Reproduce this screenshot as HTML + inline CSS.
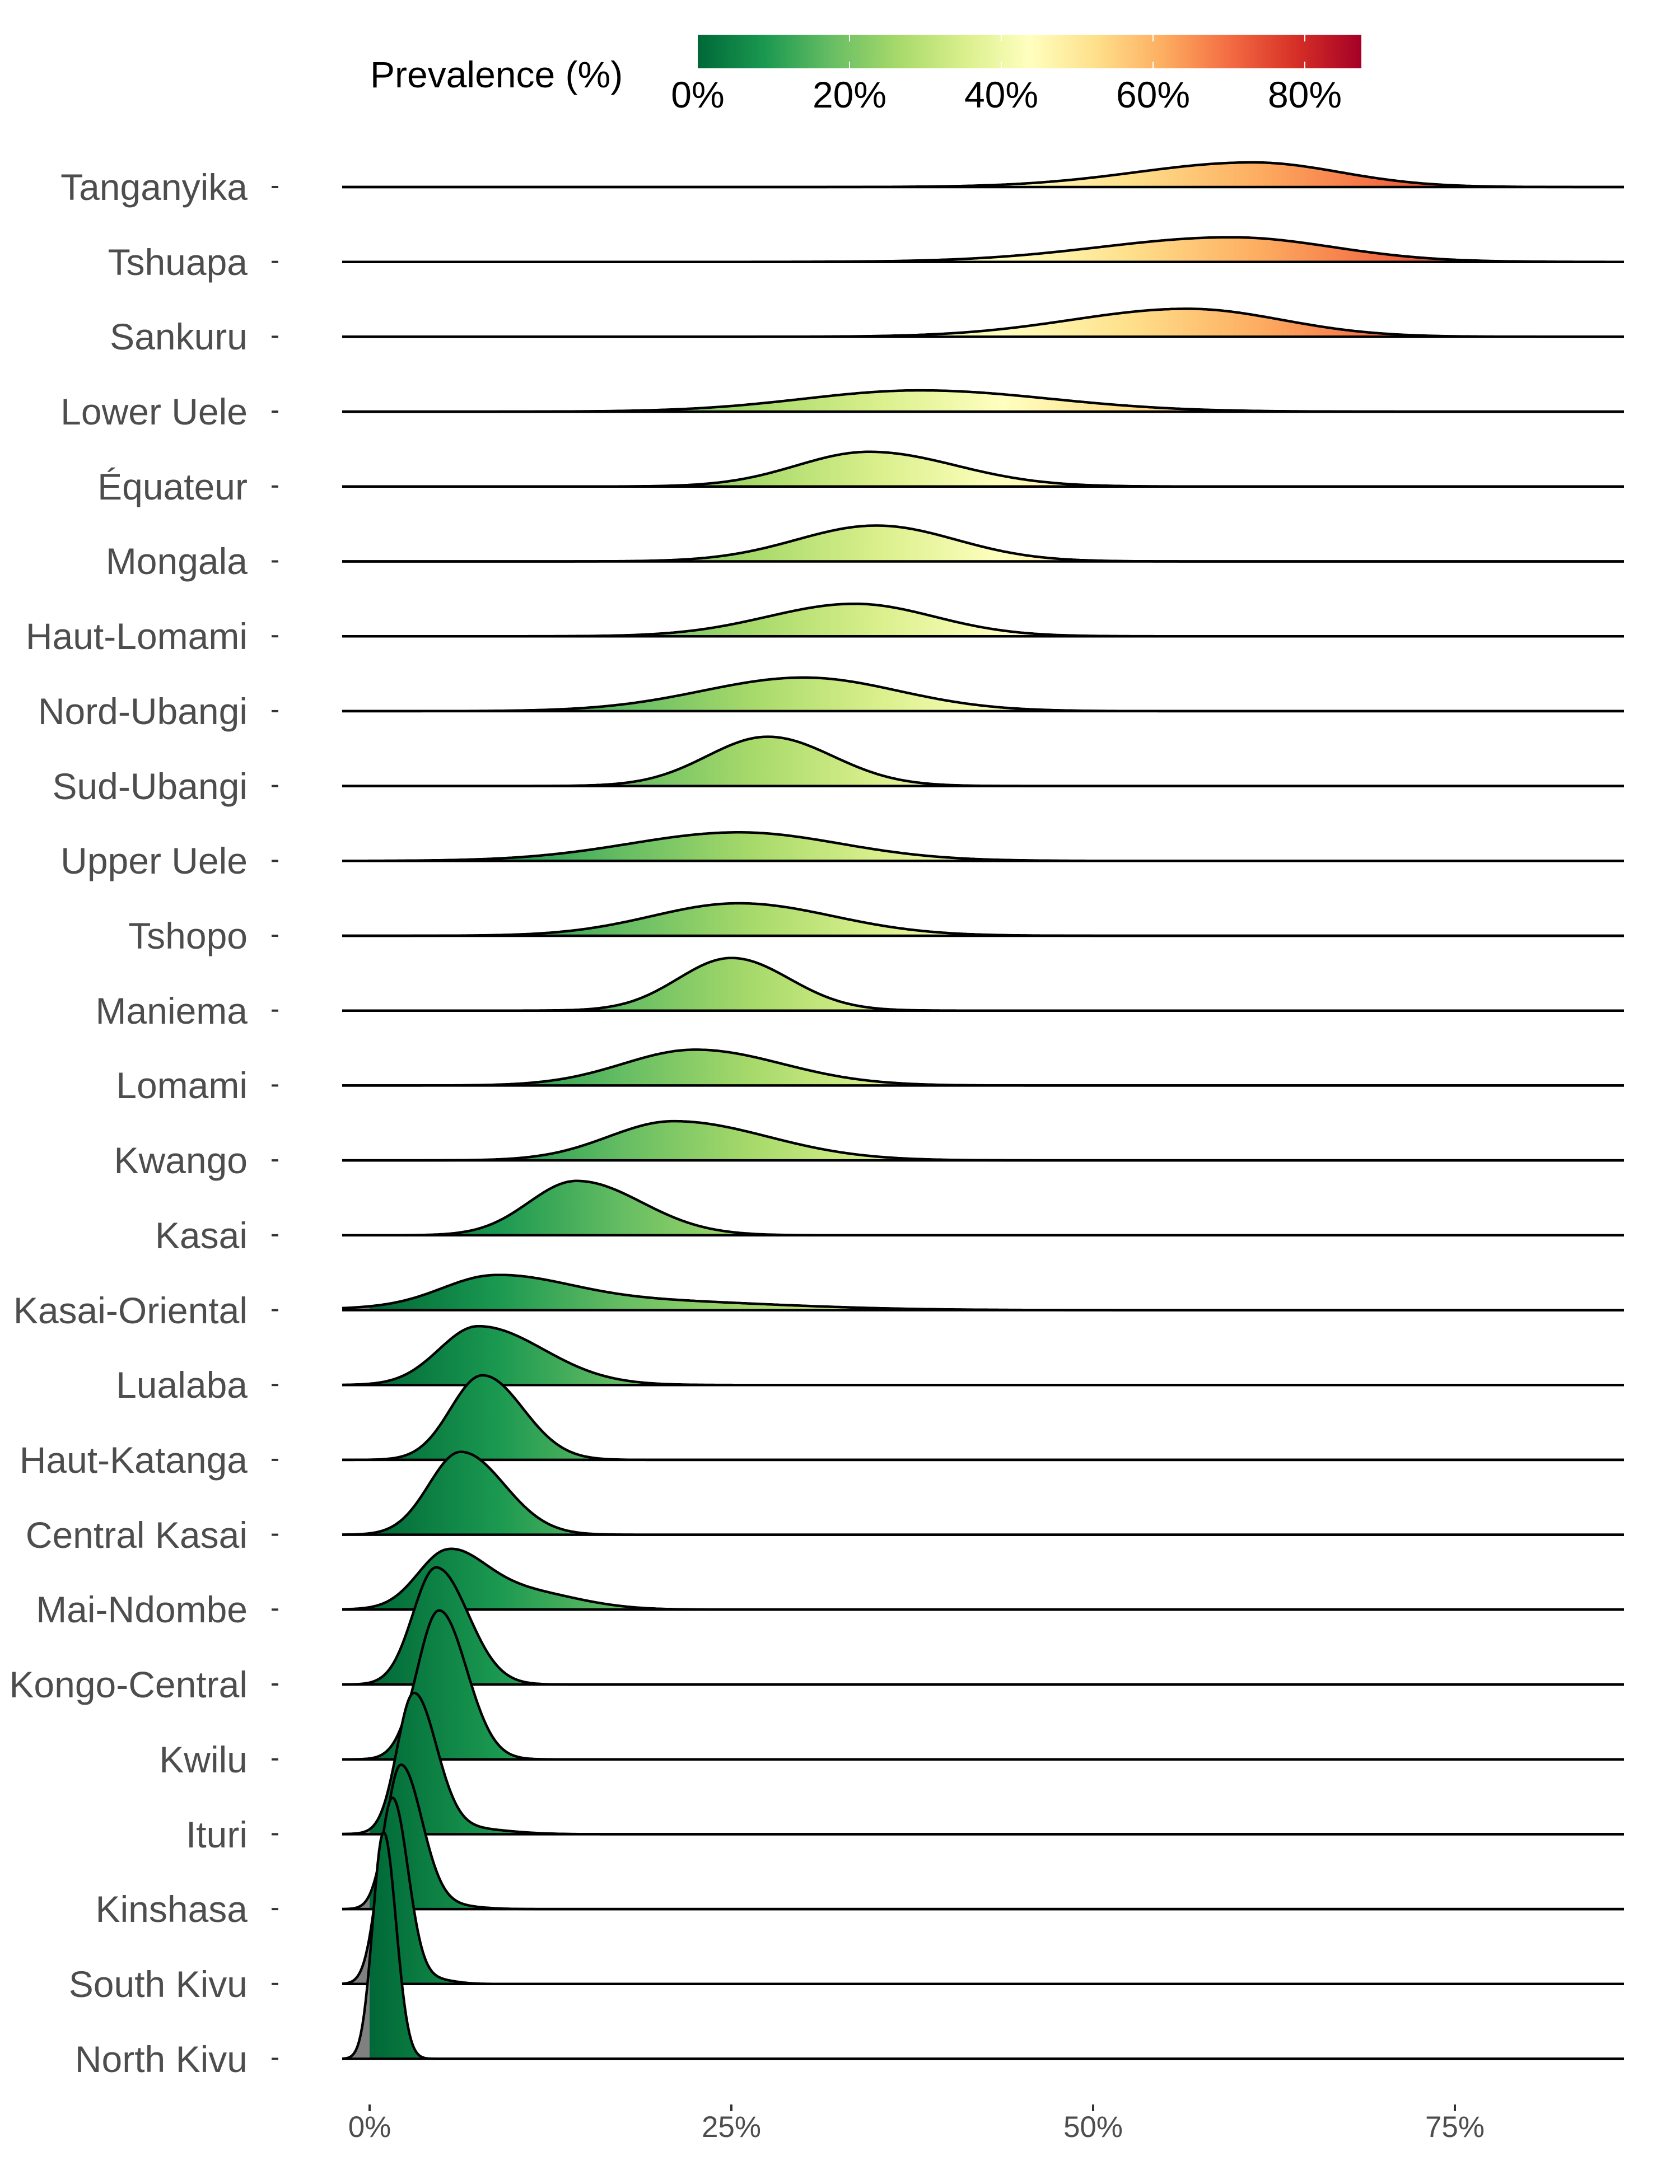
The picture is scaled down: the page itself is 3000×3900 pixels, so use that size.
<!DOCTYPE html>
<html><head><meta charset="utf-8"><style>
html,body{margin:0;padding:0;background:#fff;}
svg{display:block;}
text{font-family:"Liberation Sans",Arial,sans-serif;}
</style></head><body>
<svg id="s" xmlns="http://www.w3.org/2000/svg" width="3000" height="3900" viewBox="0 0 3000 3900">
<defs>
<linearGradient id="cb" x1="1246" x2="2431" y1="0" y2="0" gradientUnits="userSpaceOnUse">
<stop offset="0" stop-color="#006837"/><stop offset="0.1" stop-color="#1a9850"/><stop offset="0.2" stop-color="#66bd63"/><stop offset="0.3" stop-color="#a6d96a"/><stop offset="0.4" stop-color="#d9ef8b"/><stop offset="0.5" stop-color="#ffffbf"/><stop offset="0.6" stop-color="#fee08b"/><stop offset="0.7" stop-color="#fdae61"/><stop offset="0.8" stop-color="#f46d43"/><stop offset="0.9" stop-color="#d73027"/><stop offset="1" stop-color="#a50026"/>
</linearGradient>
<linearGradient id="fg" x1="611" x2="2922" y1="0" y2="0" gradientUnits="userSpaceOnUse"></linearGradient>
</defs>
<rect x="1246" y="62" width="1185" height="60" fill="url(#cb)"/>
<g stroke="#fff" stroke-width="2">
<line x1="1517" y1="62" x2="1517" y2="74"/><line x1="1517" y1="110" x2="1517" y2="122"/>
<line x1="1788" y1="62" x2="1788" y2="74"/><line x1="1788" y1="110" x2="1788" y2="122"/>
<line x1="2059" y1="62" x2="2059" y2="74"/><line x1="2059" y1="110" x2="2059" y2="122"/>
<line x1="2330" y1="62" x2="2330" y2="74"/><line x1="2330" y1="110" x2="2330" y2="122"/>
</g>
<text x="661" y="156" font-size="66" fill="#000">Prevalence (%)</text>
<g font-size="66" fill="#000" text-anchor="middle">
<text x="1246" y="192">0%</text><text x="1517" y="192">20%</text><text x="1788" y="192">40%</text><text x="2059" y="192">60%</text><text x="2330" y="192">80%</text>
</g>
<g id="ridges"></g>
<g stroke="#333" stroke-width="4">
<line x1="660" y1="3758" x2="660" y2="3770"/><line x1="1306" y1="3758" x2="1306" y2="3770"/><line x1="1952" y1="3758" x2="1952" y2="3770"/><line x1="2598" y1="3758" x2="2598" y2="3770"/>
</g>
<g font-size="53" fill="#4d4d4d" text-anchor="middle">
<text x="660" y="3816">0%</text><text x="1306" y="3816">25%</text><text x="1952" y="3816">50%</text><text x="2598" y="3816">75%</text>
</g>
<g font-size="66" fill="#4d4d4d" text-anchor="end">
<text x="442" y="357">Tanganyika</text>
<text x="442" y="491">Tshuapa</text>
<text x="442" y="624">Sankuru</text>
<text x="442" y="758">Lower Uele</text>
<text x="442" y="892">Équateur</text>
<text x="442" y="1025">Mongala</text>
<text x="442" y="1159">Haut-Lomami</text>
<text x="442" y="1293">Nord-Ubangi</text>
<text x="442" y="1427">Sud-Ubangi</text>
<text x="442" y="1560">Upper Uele</text>
<text x="442" y="1694">Tshopo</text>
<text x="442" y="1828">Maniema</text>
<text x="442" y="1961">Lomami</text>
<text x="442" y="2095">Kwango</text>
<text x="442" y="2229">Kasai</text>
<text x="442" y="2363">Kasai-Oriental</text>
<text x="442" y="2496">Lualaba</text>
<text x="442" y="2630">Haut-Katanga</text>
<text x="442" y="2764">Central Kasai</text>
<text x="442" y="2897">Mai-Ndombe</text>
<text x="442" y="3031">Kongo-Central</text>
<text x="442" y="3165">Kwilu</text>
<text x="442" y="3299">Ituri</text>
<text x="442" y="3432">Kinshasa</text>
<text x="442" y="3566">South Kivu</text>
<text x="442" y="3700">North Kivu</text>
</g>
</svg>
<script>
(function(){
var NS="http://www.w3.org/2000/svg";
var cols=["#006837","#1a9850","#66bd63","#a6d96a","#d9ef8b","#ffffbf","#fee08b","#fdae61","#f46d43","#d73027","#a50026"];
var g=document.getElementById("fg");
function X(p){return 660+p*25.85;}
function off(p){return (X(p)-611)/2311;}
function st(o,c){var s=document.createElementNS(NS,"stop");s.setAttribute("offset",o);s.setAttribute("stop-color",c);g.appendChild(s);}
st(0,"#808080");st(off(0),"#808080");
for(var i=0;i<11;i++){st(off(i*8.75),cols[i]);}
var R=[
[[61,8,6,44]],
[[59.5,9,7,44]],
[[56.5,8,6.5,50]],
[[38,8,9,38]],
[[34.5,5,6,62]],
[[35,5.5,5.5,64]],
[[33.5,6,5.5,58]],
[[30,7,6.5,60]],
[[27.5,4.2,4.5,88]],
[[25.5,7.5,7,51]],
[[25.5,6,6.5,58]],
[[25,3.7,4,94]],
[[22.5,5,6,64]],
[[21,4.5,6.5,70]],
[[14.3,3.3,4.5,97]],
[[8.5,3.5,5,50],[17,10,10,18]],
[[7.5,2.7,4.5,105]],
[[7.8,2.2,2.8,151]],
[[6.3,2.2,3.0,148]],
[[5.3,2.0,2.5,90],[10,4,4,35]],
[[4.6,1.6,2.2,209]],
[[4.8,1.5,1.9,266]],
[[3.05,1.15,1.55,245],[6,3,3,12]],
[[2.15,1.0,1.45,255],[5,2,2,8]],
[[1.57,0.95,1.07,330],[4,1.5,1.5,10]],
[[0.97,0.75,0.85,405]]
];
var rg=document.getElementById("ridges");
for(var r=0;r<R.length;r++){
 var b=334+r*133.7, comps=R[r], pts=[];
 for(var px=611;px<=2900;px+=3){
  var p=(px-660)/25.85,h=0;
  for(var k=0;k<comps.length;k++){var c=comps[k],d=p-c[0],s=d<0?c[1]:c[2];h+=c[3]*Math.exp(-d*d/(2*s*s));}
  pts.push(px+","+(b-h).toFixed(1));
 }
 var line="M"+pts.join(" L");
 var f=document.createElementNS(NS,"path");
 f.setAttribute("d",line+" L2900,"+b+" L611,"+b+" Z");
 f.setAttribute("fill","url(#fg)");rg.appendChild(f);
 var l=document.createElementNS(NS,"path");
 l.setAttribute("d",line);l.setAttribute("fill","none");l.setAttribute("stroke","#000");l.setAttribute("stroke-width","4.5");l.setAttribute("stroke-linejoin","round");rg.appendChild(l);
 var bl=document.createElementNS(NS,"line");
 bl.setAttribute("x1",611);bl.setAttribute("x2",2900);bl.setAttribute("y1",b);bl.setAttribute("y2",b);bl.setAttribute("stroke","#000");bl.setAttribute("stroke-width","4.5");rg.appendChild(bl);
 var t=document.createElementNS(NS,"line");
 t.setAttribute("x1",485);t.setAttribute("x2",497);t.setAttribute("y1",b);t.setAttribute("y2",b);t.setAttribute("stroke","#333");t.setAttribute("stroke-width","4");rg.appendChild(t);
}
})();
</script>
</body></html>
